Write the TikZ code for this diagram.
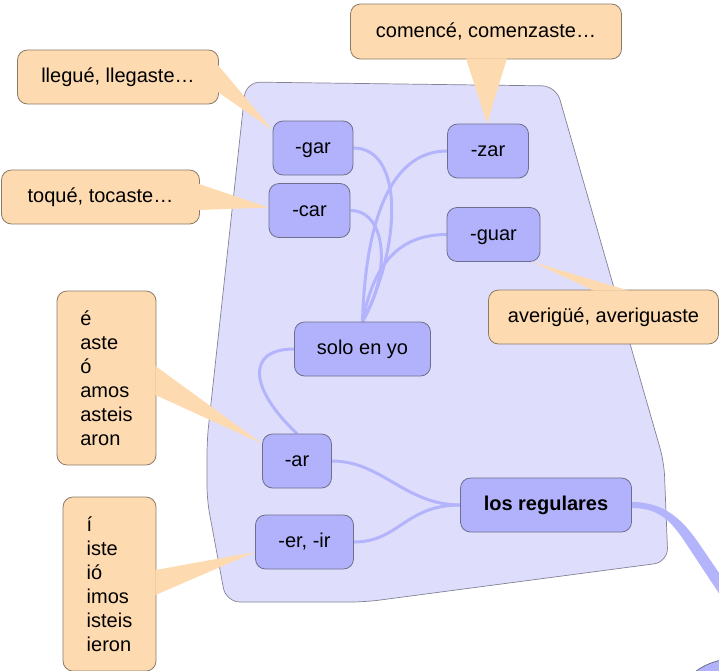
\documentclass[tikz,border=0pt]{standalone}
\usepackage{fontspec}
\setmainfont{Liberation Sans}
\usetikzlibrary{calc}
\definecolor{groupfill}{RGB}{222,222,252}
\definecolor{groupdraw}{RGB}{130,130,150}
\definecolor{nodefill}{RGB}{178,178,252}
\definecolor{nodedraw}{RGB}{110,110,140}
\definecolor{callfill}{RGB}{253,218,176}
\definecolor{calldraw}{RGB}{140,122,104}
\definecolor{edgecol}{RGB}{180,180,252}
\pgfdeclarelayer{grp}
\pgfdeclarelayer{calls}
\pgfdeclarelayer{wedges}
\pgfdeclarelayer{links}
\pgfsetlayers{grp,calls,wedges,links,main}
\begin{document}
\begin{tikzpicture}[x=1pt,y=-1pt,
  box/.style={draw=nodedraw, fill=nodefill, rounded corners=10pt, line width=0.8pt,
    inner sep=0pt, minimum height=54pt, text height=15pt, text depth=4pt,
    font=\fontsize{20}{24}\selectfont},
  callout/.style={draw=calldraw, fill=callfill, rounded corners=10pt, line width=0.8pt,
    inner sep=0pt, minimum height=54pt, font=\fontsize{20}{24}\selectfont},
  oneline/.style={text height=15pt, text depth=4pt},
  wedgefill/.style={fill=callfill},
  link/.style={draw=edgecol, line width=3pt}]
\useasboundingbox (0,0) rectangle (719,670);

% group background
\begin{pgfonlayer}{grp}
\draw[fill=groupfill, draw=groupdraw, line width=0.7pt, rounded corners=14pt]
  (246,82) -- (556,86) -- (664,462) -- (668,562) -- (365,602) -- (226,602)
  -- (207,500) -- (207,440) -- cycle;
\end{pgfonlayer}

% main nodes
\node[box, minimum width=80pt] (gar) at (313,148) {-gar};
\node[box, minimum width=81pt] (car) at (309.5,210.5) {-car};
\node[box, minimum width=81pt] (zar) at (488,151) {-zar};
\node[box, minimum width=93pt] (guar) at (493.5,234.5) {-guar};
\node[box, minimum width=136pt] (solo) at (362.5,349) {solo en yo};
\node[box, minimum width=69pt] (ar) at (297,461) {-ar};
\node[box, minimum width=98pt] (erir) at (304.5,542) {-er, -ir};
\node[box, minimum width=171pt, font=\fontsize{20}{24}\selectfont\bfseries] (reg) at (546,505) {los regulares};

% callouts
\begin{pgfonlayer}{calls}
\node[callout, oneline, minimum width=201pt] (c1) at (118,77) {llegué, llegaste…};
\node[callout, oneline, minimum width=198pt] (c2) at (100.5,197) {toqué, tocaste…};
\node[callout, oneline, minimum width=271pt, minimum height=55pt] (c3) at (486,31.5) {comencé, comenzaste…};
\node[callout, oneline, minimum width=230pt] (c4) at (603.5,317) {averigüé, averiguaste};
\node[callout, minimum width=99pt, minimum height=174pt, align=left] (c5) at (106.5,378)
  {é\\aste\\ó\\amos\\asteis\\aron};
\node[callout, minimum width=93pt, minimum height=174pt, align=left] (c6) at (109.5,584)
  {í\\iste\\ió\\imos\\isteis\\ieron};
\end{pgfonlayer}

% callout wedges
\begin{pgfonlayer}{wedges}
\fill[wedgefill] ($(c1.east)+(-1,-12)$) -- ($(gar.west)+(0,-18)$) -- ($(c1.east)+(-1,15)$) -- cycle;
\fill[wedgefill] ($(c2.east)+(-1,-13)$) -- ($(car.west)+(0,-3)$) -- ($(c2.east)+(-1,13)$) -- cycle;
\fill[wedgefill] ($(c3.south)+(-20,-1)$) -- ($(zar.north)+(-1,0)$) -- ($(c3.south)+(21,-1)$) -- cycle;
\fill[wedgefill] ($(c4.north)+(-10,1)$) -- ($(guar.south east)+(-8,0)$) -- ($(c4.north)+(25,1)$) -- cycle;
\fill[wedgefill] ($(c5.east)+(-1,-12)$) -- ($(ar.north west)+(0,10)$) -- ($(c5.east)+(-1,17)$) -- cycle;
\fill[wedgefill] ($(c6.east)+(-1,-14)$) -- ($(erir.west)+(0,10)$) -- ($(c6.east)+(-1,11)$) -- cycle;
\end{pgfonlayer}

% connectors
\begin{pgfonlayer}{links}
\draw[link] (gar.east) .. controls +(52,0) and +(38,-72) .. (solo.north);
\draw[link] (zar.west) .. controls +(-57,0) and +(3,-100) .. (solo.north);
\draw[link] (car.east) .. controls +(35,0) and +(30,-52) .. (solo.north);
\draw[link] (guar.west) .. controls +(-52,0) and +(10,-52) .. (solo.north);
\draw[link] (solo.west) .. controls +(-49,0) and +(-47,-44) .. (ar.north);
\draw[link] (ar.east) .. controls +(50,0) and +(-55,0) .. (reg.west);
\draw[link] (erir.east) .. controls +(45,0) and +(-55,0) .. (reg.west);
\coordinate (regout1) at (728,586);
\coordinate (regout2) at (728,607);
\fill[edgecol] ($(reg.east)+(0,-3)$) .. controls +(33,0) and (683,520) .. (700,545)
  -- (regout1) -- (regout2) -- (687,545) .. controls (672,522) and ($(reg.east)+(28,3)$)
  .. ($(reg.east)+(0,3)$) -- cycle;
\end{pgfonlayer}

% fragment of the next node, bottom right
\begin{scope}
\clip (0,0) rectangle (719,670);
\draw[fill=nodefill, draw=nodedraw, line width=0.8pt]
  (690,676) .. controls (700,667) and (710,662) .. (726,659) -- (726,676) -- cycle;
\end{scope}
\end{tikzpicture}
\end{document}
